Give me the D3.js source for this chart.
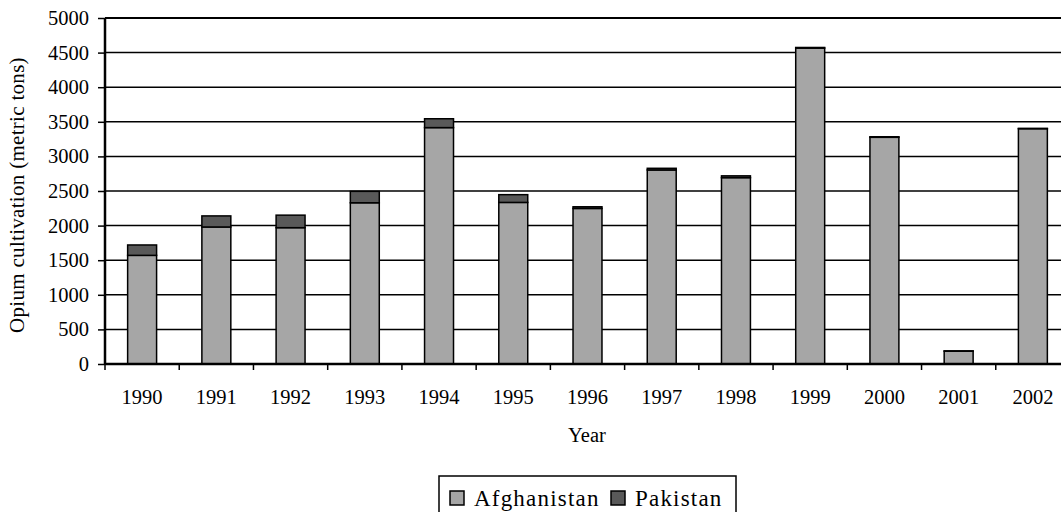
<!DOCTYPE html>
<html>
<head>
<meta charset="utf-8">
<script src="https://cdn.jsdelivr.net/npm/d3@7"></script>
<style>
  body { margin: 0; background: #fff; }
  text { font-family: "Liberation Serif", "DejaVu Serif", serif; }
</style>
</head>
<body>
<script>
// data
const years = ["1990","1991","1992","1993","1994","1995","1996","1997","1998","1999","2000","2001","2002"];
const afghanistan = [1570, 1980, 1970, 2330, 3416, 2335, 2248, 2804, 2693, 4565, 3276, 185, 3400];
const pakistan = [150, 160, 181, 165, 128, 112, 24, 24, 26, 9, 8, 5, 5];
const yTicks = [0, 500, 1000, 1500, 2000, 2500, 3000, 3500, 4000, 4500, 5000];
const seriesNames = ["Afghanistan", "Pakistan"];
const seriesColors = ["#a6a6a6", "#595959"];

const W = 1061, H = 512;
const mLeft = 105, mRight = 1070, mTop = 18, mBottom = 364;

const svg = d3.select("body").append("svg")
  .attr("width", W).attr("height", H);

const x = d3.scaleBand().domain(years).range([mLeft, mRight])
  .paddingInner(0.61).paddingOuter(0.305);
const y = d3.scaleLinear().domain([0, 5000]).range([mBottom, mTop]);

// gridlines
svg.append("g").selectAll("line")
  .data(yTicks.filter(d => d > 0))
  .join("line")
  .attr("x1", mLeft).attr("x2", mRight)
  .attr("y1", d => y(d)).attr("y2", d => y(d))
  .attr("stroke", "#000")
  .attr("stroke-width", d => d === 5000 ? 2 : 1.5);

// stacked bars
const rows = years.map((yr, i) => ({year: yr, a: afghanistan[i], p: pakistan[i]}));
const stack = d3.stack().keys(["a", "p"])(rows);

svg.append("g").selectAll("g")
  .data(stack)
  .join("g")
  .attr("fill", (d, i) => seriesColors[i])
  .selectAll("rect")
  .data(d => d)
  .join("rect")
  .attr("x", d => x(d.data.year))
  .attr("width", x.bandwidth())
  .attr("y", d => y(d[1]))
  .attr("height", d => y(d[0]) - y(d[1]))
  .attr("stroke", "#000")
  .attr("stroke-width", 1.5);

// y axis
const yAxis = svg.append("g")
  .attr("transform", `translate(${mLeft},0)`)
  .call(d3.axisLeft(y).tickValues(yTicks).tickSize(7).tickPadding(9).tickFormat(d3.format("d")));
yAxis.select(".domain").attr("stroke-width", 2.5).attr("d", `M0,${mTop}V${mBottom}`);
yAxis.selectAll(".tick line").attr("stroke-width", 1.5);
yAxis.selectAll("text").attr("font-size", 20.5).attr("fill", "#000");

// x axis: labels centred on bars, ticks at band boundaries
const xAxis = svg.append("g")
  .attr("transform", `translate(0,${mBottom})`)
  .call(d3.axisBottom(x).tickSize(0).tickPadding(25));
xAxis.select(".domain").attr("stroke-width", 2.5).attr("d", `M${mLeft},0H${mRight}`);
xAxis.selectAll("text").attr("font-size", 20.5).attr("fill", "#000");

const half = (x.step() - x.bandwidth()) / 2;
svg.append("g").selectAll("line")
  .data(years)
  .join("line")
  .attr("x1", d => x(d) - half).attr("x2", d => x(d) - half)
  .attr("y1", mBottom).attr("y2", mBottom + 6)
  .attr("stroke", "#000").attr("stroke-width", 1.5);

// axis titles
svg.append("text")
  .attr("x", 587).attr("y", 442)
  .attr("text-anchor", "middle")
  .attr("font-size", 20.5)
  .text("Year");

svg.append("text")
  .attr("transform", "translate(24,195) rotate(-90)")
  .attr("text-anchor", "middle")
  .attr("font-size", 21)
  .attr("letter-spacing", 0.3)
  .text("Opium cultivation (metric tons)");

// legend
const lg = svg.append("g").attr("transform", "translate(439,476)");
lg.append("rect")
  .attr("width", 297).attr("height", 40)
  .attr("fill", "#fff").attr("stroke", "#000").attr("stroke-width", 1.5);
const lx = [11, 172];
seriesNames.forEach((name, i) => {
  lg.append("rect")
    .attr("x", lx[i]).attr("y", 15).attr("width", 14).attr("height", 14)
    .attr("fill", seriesColors[i]).attr("stroke", "#000").attr("stroke-width", 1.5);
  lg.append("text")
    .attr("x", lx[i] + 24).attr("y", 30)
    .attr("font-size", 23)
    .attr("letter-spacing", 1.2)
    .text(name);
});
</script>
</body>
</html>
